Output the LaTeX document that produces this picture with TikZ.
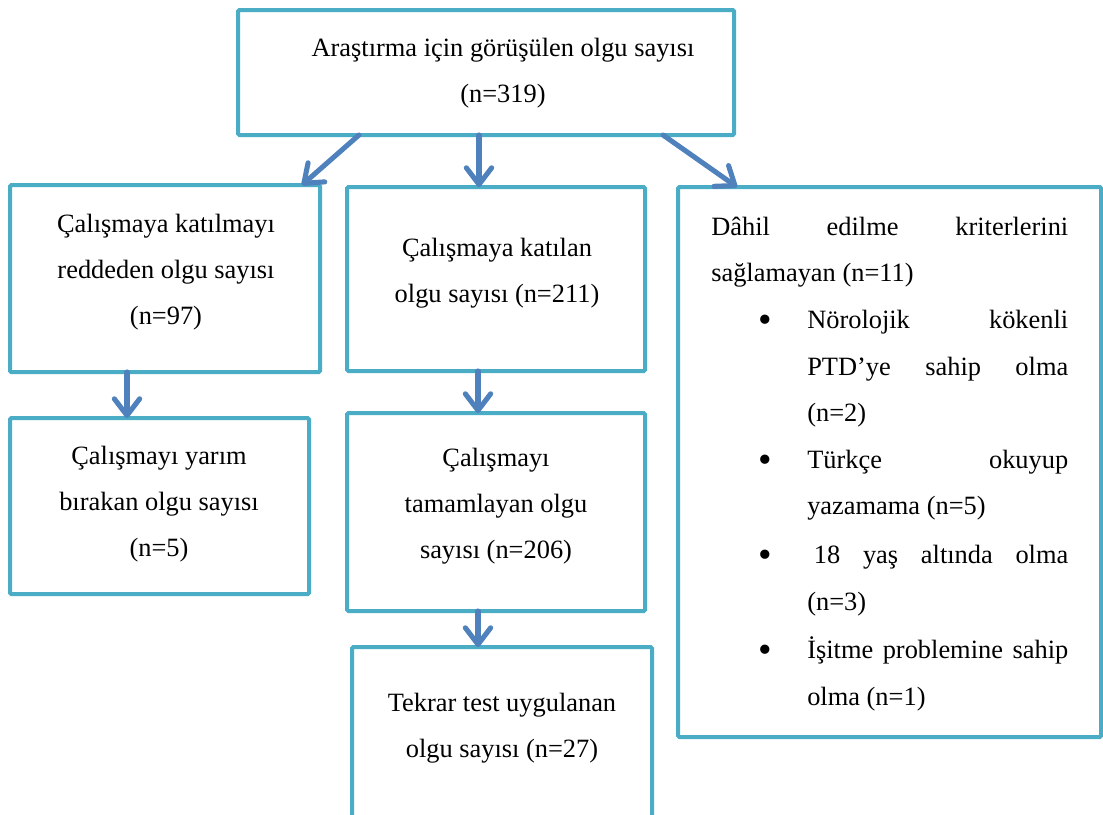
\documentclass[tikz,border=0pt]{standalone}
\usepackage{fontspec}
\setmainfont{Liberation Serif}
\usetikzlibrary{arrows.meta,fit,calc}
\definecolor{boxcol}{RGB}{75,172,198}
\definecolor{arrcol}{RGB}{79,129,189}
\tikzset{
  flowbox/.style={draw=boxcol, line width=3pt, rounded corners=1pt, inner sep=0pt, outer sep=0pt},
  txt/.style={font=\fontsize{19.8pt}{34.5pt}\selectfont, align=center, inner sep=0pt},
  ltxt/.style={font=\fontsize{19.8pt}{34.5pt}\selectfont, inner sep=0pt, anchor=base west},
  bul/.style={font=\fontsize{29pt}{30pt}\selectfont, inner sep=0pt, anchor=base},
  arr/.style={draw=arrcol, line width=3.8pt, line cap=round,
    -{Straight Barb[length=12.5pt,width=19pt,line width=3.8pt,round]}}
}
\begin{document}
\begin{tikzpicture}[x=0.75pt,y=-0.75pt]
\clip (0,0) rectangle (1103,814);
\useasboundingbox (0,0) rectangle (1103,814);
% boxes
\node[flowbox, fit={(238,10) (734,135)}] (top) {};
\node[flowbox, fit={(10,185) (320,372)}] (lb1) {};
\node[flowbox, fit={(347,187) (645,371)}] (mb1) {};
\node[flowbox, fit={(678,187) (1101,737)}] (rb) {};
\node[flowbox, fit={(10,418) (309,594)}] (lb2) {};
\node[flowbox, fit={(347,413) (645,611)}] (mb2) {};
\node[flowbox, fit={(352,647) (652,840)}] (bb) {};
% texts
\node[txt] (ttop) at (503,73.5) {Araştırma için görüşülen olgu sayısı\\(n=319)};
\node[txt] (tlb1) at (166,272) {Çalışmaya katılmayı\\reddeden olgu sayısı\\(n=97)};
\node[txt] (tmb1) at (497,273.5) {Çalışmaya katılan\\olgu sayısı (n=211)};
\node[txt] (tlb2) at (159,504) {Çalışmayı yarım\\bırakan olgu sayısı\\(n=5)};
\node[txt] (tmb2) at (496,506.5) {Çalışmayı\\tamamlayan olgu\\sayısı (n=206)};
\node[txt] (tbb) at (502,728.5) {Tekrar test uygulanan\\olgu sayısı (n=27)};
% right box lines
\node[ltxt] (r1) at (711,235) {\makebox[267.75pt][s]{Dâhil edilme kriterlerini}};
\node[ltxt] (r2) at (711,281) {sağlamayan (n=11)};
\node[bul] (b1) at (765,332) {•};
\node[ltxt] (r3) at (807,328) {\makebox[195.75pt][s]{Nörolojik kökenli}};
\node[ltxt] (r4) at (807,375) {\makebox[195.75pt][s]{PTD’ye sahip olma}};
\node[ltxt] (r5) at (807,421) {(n=2)};
\node[bul] (b2) at (765,472) {•};
\node[ltxt] (r6) at (807,468) {\makebox[195.75pt][s]{Türkçe okuyup}};
\node[ltxt] (r7) at (807,514) {yazamama (n=5)};
\node[bul] (b3) at (765,567) {•};
\node[ltxt] (r8) at (807,563) {\makebox[195.75pt][s]{\hspace*{5pt}18 yaş altında olma}};
\node[ltxt] (r9) at (807,610) {(n=3)};
\node[bul] (b4) at (765,662) {•};
\node[ltxt] (r10) at (807,658) {\makebox[195.75pt][s]{İşitme problemine sahip}};
\node[ltxt] (r11) at (807,705) {olma (n=1)};
% arrows
\draw[arr] ($(top.south west)+(121,0)$) -- ($(lb1.north east)+(-18,0)$);
\draw[arr] ($(top.south west)+(241,0)$) -- ($(mb1.north west)+(132,0)$);
\draw[arr] ($(top.south west)+(425,0)$) -- ($(rb.north west)+(59,0)$);
\draw[arr] ($(lb1.south west)+(117,0)$) -- ($(lb2.north west)+(117,0)$);
\draw[arr] ($(mb1.south west)+(131,0)$) -- ($(mb2.north west)+(131,0)$);
\draw[arr] ($(mb2.south west)+(131,0)$) -- ($(bb.north west)+(126,0)$);
\end{tikzpicture}
\end{document}
